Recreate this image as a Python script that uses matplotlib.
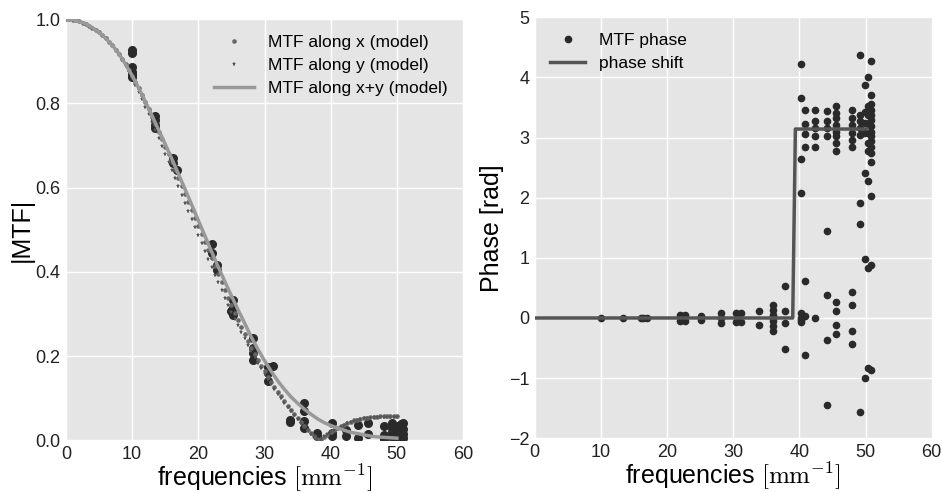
import numpy as np
import matplotlib
matplotlib.use("Agg")
import matplotlib.pyplot as plt

plt.rcParams['font.family'] = ['Liberation Sans', 'DejaVu Sans']
plt.rcParams['mathtext.fontset'] = 'cm'

# model curves
model_freq = np.arange(0, 50.01, 0.5)
mtf_x_model = [
    1.000, 1.000, 0.999, 0.997, 0.995, 0.992, 0.989, 0.985, 0.980, 0.975,
    0.969, 0.962, 0.955, 0.947, 0.938, 0.928, 0.918, 0.906, 0.893, 0.880,
    0.866, 0.851, 0.836, 0.820, 0.804, 0.786, 0.768, 0.751, 0.733, 0.715,
    0.697, 0.679, 0.661, 0.642, 0.623, 0.604, 0.585, 0.566, 0.547, 0.528,
    0.508, 0.489, 0.470, 0.451, 0.432, 0.413, 0.394, 0.375, 0.357, 0.339,
    0.321, 0.303, 0.286, 0.269, 0.252, 0.236, 0.220, 0.205, 0.190, 0.177,
    0.164, 0.151, 0.139, 0.127, 0.115, 0.104, 0.093, 0.082, 0.072, 0.062,
    0.052, 0.043, 0.034, 0.025, 0.017, 0.010, 0.004, 0.003, 0.008, 0.013,
    0.019, 0.024, 0.029, 0.033, 0.037, 0.041, 0.044, 0.047, 0.049, 0.051,
    0.053, 0.054, 0.055, 0.056, 0.056, 0.057, 0.057, 0.057, 0.057, 0.057,
    0.057]
mtf_y_model = [
    1.000, 1.000, 0.999, 0.997, 0.995, 0.992, 0.989, 0.985, 0.980, 0.975,
    0.969, 0.962, 0.955, 0.947, 0.938, 0.928, 0.918, 0.903, 0.889, 0.875,
    0.860, 0.844, 0.827, 0.810, 0.792, 0.774, 0.756, 0.737, 0.718, 0.699,
    0.680, 0.661, 0.642, 0.622, 0.603, 0.583, 0.564, 0.544, 0.525, 0.506,
    0.487, 0.468, 0.449, 0.430, 0.411, 0.393, 0.375, 0.357, 0.339, 0.322,
    0.305, 0.289, 0.273, 0.257, 0.242, 0.227, 0.212, 0.198, 0.184, 0.171,
    0.158, 0.146, 0.134, 0.122, 0.111, 0.100, 0.089, 0.079, 0.069, 0.059,
    0.050, 0.041, 0.032, 0.024, 0.016, 0.009, 0.004, 0.004, 0.009, 0.014,
    0.019, 0.024, 0.028, 0.032, 0.036, 0.040, 0.043, 0.046, 0.048, 0.050,
    0.052, 0.053, 0.054, 0.055, 0.055, 0.056, 0.056, 0.056, 0.056, 0.056,
    0.056]
line_freq = np.arange(0, 51)
mtf_xy_model = [
    1.000, 0.999, 0.995, 0.989, 0.980, 0.969, 0.955, 0.938, 0.918, 0.893,
    0.866, 0.836, 0.804, 0.771, 0.737, 0.703, 0.668, 0.632, 0.596, 0.559,
    0.522, 0.485, 0.448, 0.412, 0.377, 0.343, 0.310, 0.278, 0.245, 0.216,
    0.189, 0.164, 0.141, 0.121, 0.103, 0.088, 0.074, 0.062, 0.051, 0.042,
    0.035, 0.029, 0.024, 0.019, 0.016, 0.013, 0.010, 0.008, 0.007, 0.006,
    0.005]

# measured |MTF|
meas_freq = [10.0, 10.0, 10.0, 10.0, 10.0, 10.0,
             13.4, 13.4, 13.4, 13.4,
             16.1, 16.1, 16.8,
             22.0, 22.0, 22.8, 22.8,
             24.9, 25.2, 25.2, 25.2,
             28.2, 28.2, 28.2, 28.2,
             30.6, 30.6, 30.6, 31.3,
             33.8, 33.8,
             36.0, 36.0, 36.0, 36.0,
             37.9, 37.9,
             40.2, 40.2, 40.2,
             42.3, 42.3,
             44.2, 44.2,
             45.6, 45.6,
             48.1, 48.1, 48.1,
             49.2, 49.2, 49.2, 49.2,
             50.0, 50.0, 50.0,
             50.6, 50.6, 50.6, 50.6, 50.6,
             51.0, 51.0, 51.0, 51.0]
meas_mtf = [0.928, 0.920, 0.887, 0.875, 0.867, 0.862,
            0.770, 0.760, 0.749, 0.741,
            0.670, 0.658, 0.643,
            0.466, 0.444, 0.417, 0.405,
            0.306, 0.334, 0.314, 0.298,
            0.243, 0.219, 0.207, 0.191,
            0.175, 0.160, 0.140, 0.177,
            0.043, 0.048,
            0.089, 0.069, 0.045, 0.029,
            0.018, 0.009,
            0.041, 0.017, 0.009,
            0.025, 0.010,
            0.037, 0.006,
            0.041, 0.014,
            0.035, 0.012, 0.004,
            0.040, 0.028, 0.020, 0.008,
            0.033, 0.018, 0.005,
            0.038, 0.030, 0.022, 0.014, 0.004,
            0.040, 0.027, 0.015, 0.006]

# measured phase
phase_freq = [10.0, 13.4, 16.0, 16.9, 16.4,
              21.9, 21.9, 22.7, 22.7, 22.3,
              25.2, 25.2,
              28.2, 28.2, 28.2,
              30.5, 30.5, 31.2, 31.2, 30.8,
              33.9, 33.9,
              36.0, 36.0, 36.0, 36.0, 36.0, 36.0, 36.0,
              37.9, 37.9, 37.9, 37.9,
              40.2, 40.2, 40.2, 40.2, 40.2, 40.2, 40.2, 40.2,
              40.8, 40.8, 40.8, 40.8, 40.8, 40.8, 40.8,
              42.4, 42.4, 42.4, 42.4, 42.4, 42.4,
              44.2, 44.2, 44.2, 44.2, 44.2, 44.2, 44.2, 44.2,
              45.6, 45.6, 45.6, 45.6, 45.6, 45.6, 45.6, 45.6,
              45.6, 45.6, 45.6, 45.6,
              48.0, 48.0, 48.0, 48.0, 48.0, 48.0, 48.0, 48.0, 48.0, 48.0,
              49.1, 49.1, 49.1, 49.1, 49.1, 49.1, 49.1, 49.1,
              49.9, 49.9, 49.9, 49.9, 49.9, 49.9, 49.9,
              50.4, 50.4, 50.4, 50.4, 50.4, 50.4, 50.4, 50.4, 50.4, 50.4,
              50.9, 50.9, 50.9, 50.9, 50.9, 50.9, 50.9, 50.9, 50.9, 50.9,
              50.9, 50.9, 50.9, 50.9, 50.9, 50.9]
phase_val = [0.0, 0.0, 0.0, 0.0, 0.0,
             0.05, -0.05, 0.05, -0.05, 0.0,
             0.04, -0.04,
             0.08, 0.0, -0.08,
             0.08, -0.07, 0.08, -0.07, 0.0,
             0.11, -0.11,
             0.22, 0.14, 0.055, 0.0, -0.055, -0.14, -0.22,
             0.53, 0.11, -0.09, -0.51,
             4.23, 3.65, 2.64, 2.07, 0.08, 0.0, -0.04, -0.07,
             3.45, 3.23, 3.06, 2.85, 0.62, -0.62, 0.03,
             3.46, 3.27, 3.16, 3.02, 2.84, 0.0,
             3.44, 3.27, 3.16, 3.02, 1.45, 0.38, -0.37, -1.44,
             3.53, 3.41, 3.32, 3.21, 3.10, 3.02, 2.91, 2.77,
             0.27, 0.11, -0.11, -0.27,
             3.46, 3.32, 3.21, 3.07, 2.96, 2.85, 0.44, 0.22, -0.22, -0.44,
             4.38, 3.38, 3.27, 3.16, 3.05, 1.91, 1.57, -1.57,
             3.88, 2.41, 0.98, -0.99, 3.42, 3.25, 3.08,
             4.01, 2.28, 0.83, -0.83, 3.53, 3.37, 3.23, 3.08, 2.91, 2.77,
             4.27, 3.70, 3.55, 3.46, 3.38, 3.30, 3.19, 3.10, 3.02, 2.94,
             2.85, 2.74, 2.59, 2.03, 0.875, -0.86]

# phase shift step
shift_freq = [0.0, 39.0, 39.4, 50.2]
shift_val = [0.0, 0.0, np.pi, np.pi]

fig = plt.figure(figsize=(9.43, 4.93), dpi=100)
ax1 = fig.add_axes([0.070, 0.107, 0.421, 0.854])
ax2 = fig.add_axes([0.567, 0.111, 0.421, 0.854])

for ax in (ax1, ax2):
    ax.set_facecolor('#E5E5E5')
    ax.grid(True, color='white', linewidth=1)
    ax.set_axisbelow(True)
    for s in ax.spines.values():
        s.set_visible(False)
    ax.tick_params(length=0, labelsize=13, colors='#222222', pad=4)

ax1.plot(meas_freq, meas_mtf, 'o', color='#2a2a2a', markersize=5.5)
ax1.plot(model_freq, mtf_x_model, 'o', color='#666666', markersize=3.3,
         markeredgewidth=0, label='MTF along x (model)')
ax1.plot(model_freq, mtf_y_model, '*', color='#555555', markersize=3.6,
         markeredgewidth=0, label='MTF along y (model)')
ax1.plot(line_freq, mtf_xy_model, '-', color='#999999', linewidth=2.5,
         label='MTF along x+y (model)')
ax1.set_xlim(0, 60)
ax1.set_ylim(0, 1.0)
ax1.set_xticks(range(0, 61, 10))
ax1.set_yticks(np.arange(0, 1.01, 0.2))
ax1.set_xlabel('frequencies $[\\mathrm{mm}^{-1}]$', fontsize=18, labelpad=0)
ax1.set_ylabel('|MTF|', fontsize=18, labelpad=1)
ax1.legend(loc='upper right', frameon=False, fontsize=12.5, numpoints=1,
           handlelength=2.3, labelspacing=0.45, borderaxespad=0.5)

ax2.plot(phase_freq, phase_val, 'o', color='#2a2a2a', markersize=4.5,
         label='MTF phase')
ax2.plot(shift_freq, shift_val, '-', color='#555555', linewidth=2.5,
         label='phase shift')
ax2.set_xlim(0, 60)
ax2.set_ylim(-2, 5)
ax2.set_xticks(range(0, 61, 10))
ax2.set_yticks(range(-2, 6))
ax2.set_xlabel('frequencies $[\\mathrm{mm}^{-1}]$', fontsize=18, labelpad=0)
ax2.set_ylabel('Phase [rad]', fontsize=18, labelpad=3)
ax2.legend(loc='upper left', frameon=False, fontsize=12.5, numpoints=1,
           handlelength=2.0, handletextpad=0.8, labelspacing=0.45,
           borderaxespad=0.5)

fig.savefig('out.png', dpi=100)
